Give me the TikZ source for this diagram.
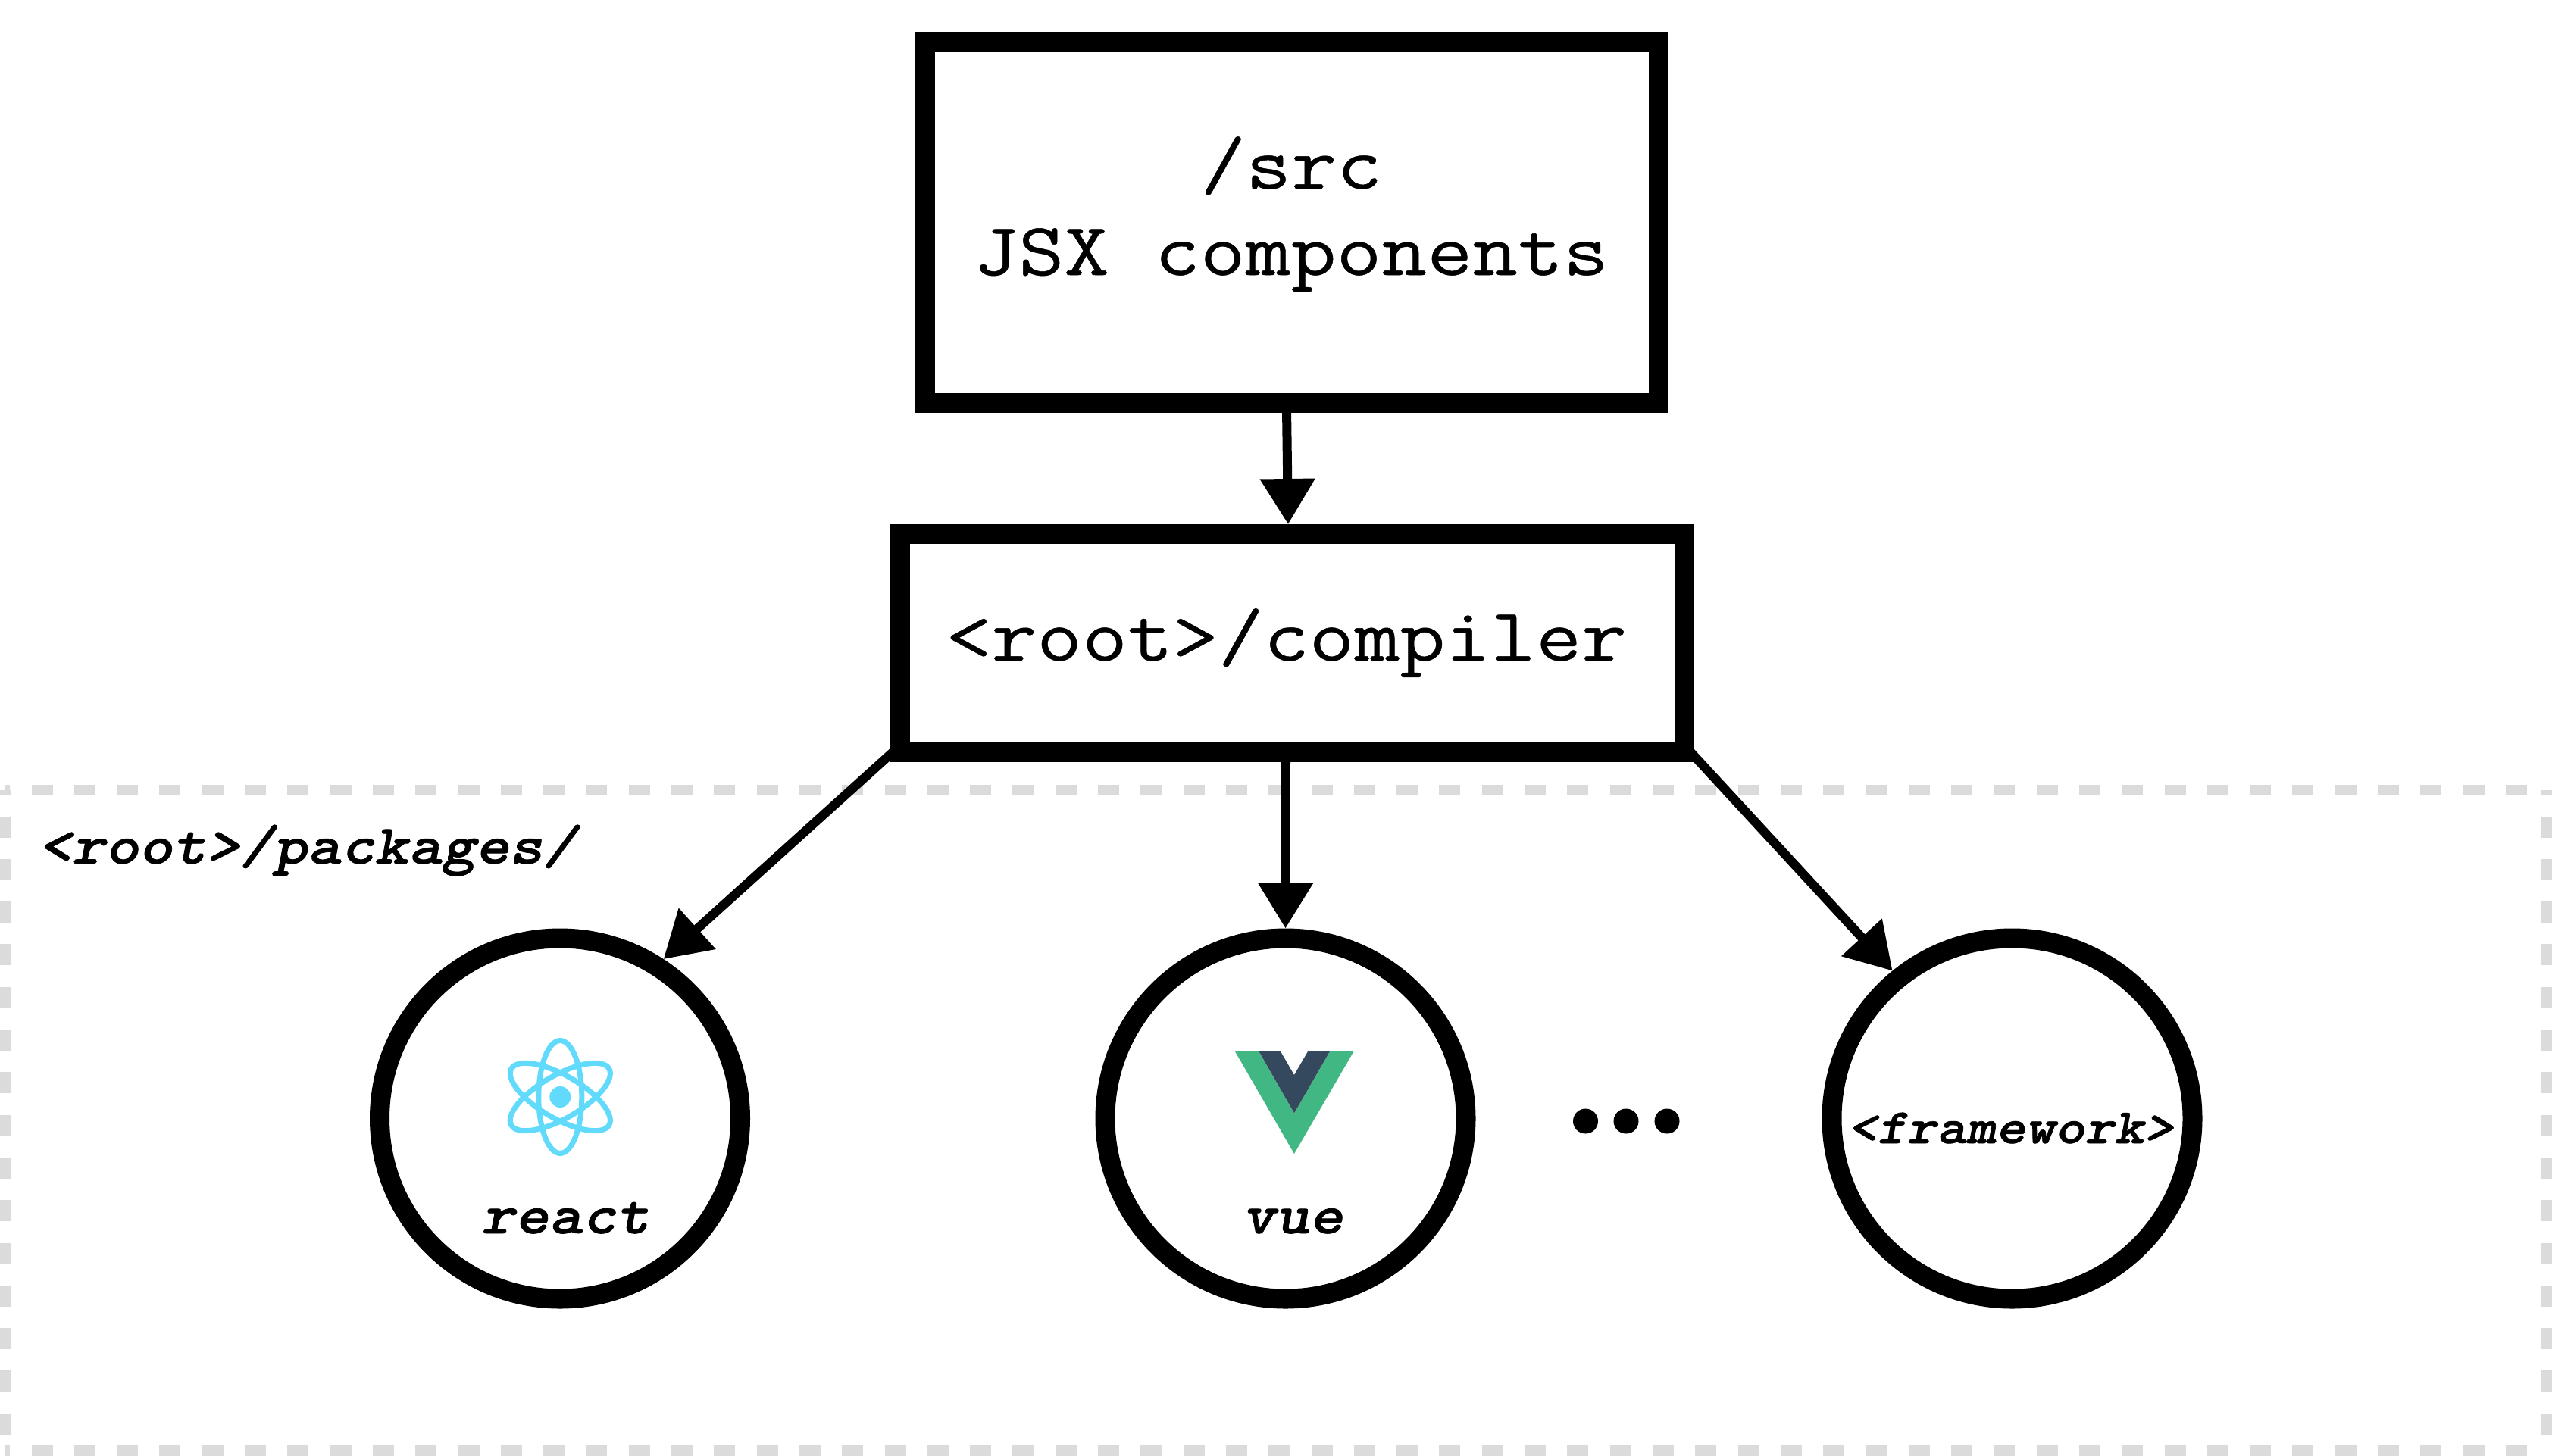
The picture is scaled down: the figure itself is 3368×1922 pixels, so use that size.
\documentclass[tikz,border=0pt]{standalone}
\usepackage{fontspec}
\usetikzlibrary{arrows.meta}
\newfontfamily\courreg[FakeStretch=1.175,FakeBold=0.5]{Latin Modern Mono}
\newfontfamily\courbi[FakeStretch=1.143,FakeBold=1]{Latin Modern Mono Light}
\definecolor{dashgray}{HTML}{DBDBDB}
\definecolor{reactblue}{HTML}{61DAFB}
\definecolor{vuegreen}{HTML}{41B883}
\definecolor{vuedark}{HTML}{35495E}
\tikzset{
  boxnode/.style={draw=black,fill=white,rectangle,line width=13pt,inner sep=0pt},
  pkgnode/.style={draw=black,fill=white,circle,line width=13pt,inner sep=0pt,minimum size=238pt},
  reglabel/.style={anchor=base west,inner sep=0pt,font={\fontsize{49.5pt}{49.5pt}\courreg}},
  bilabel/.style={anchor=base west,inner sep=0pt,font={\fontsize{37pt}{37pt}\courbi\bfseries\itshape}},
  fwlabel/.style={anchor=base west,inner sep=0pt,font={\fontsize{32.6pt}{32.6pt}\courbi\bfseries\itshape}},
  conn/.style={line width=6pt,-{Triangle[length=30pt,width=35pt]}},
  frameline/.style={draw=dashgray,line width=7pt,dash pattern=on 14pt off 14.15pt,dash phase=10.9pt},
  orbit/.style={draw=reactblue,line width=3.5pt},
}
\begin{document}
\begin{tikzpicture}[x=.5pt,y=-.5pt]
\useasboundingbox[fill=white] (0,0) rectangle (3368,1922);
% dashed frame
\draw[frameline] (7,1043) -- (3361,1043);
\draw[frameline] (7,1043) -- (7,1915);
\draw[frameline] (3361,1043) -- (3361,1915);
\draw[frameline] (7,1915) -- (3361,1915);
% boxes
\node[boxnode,minimum width=484.15pt,minimum height=238.35pt] (src) at (1704.85,293.65) {};
\node[boxnode,minimum width=517.35pt,minimum height=144pt] (compiler) at (1705.35,848.7) {};
% circles
\node[pkgnode] (react) at (739,1476.5) {};
\node[pkgnode] (vue) at (1696.5,1476.5) {};
\node[pkgnode] (framework) at (2655.5,1476.5) {};
% texts
\node[reglabel] (srcA) at (1584,249) {/src};
\node[reglabel] (srcB) at (1284,363) {JSX components};
\node[reglabel] (comp) at (1248,872) {<root>/compiler};
\node[bilabel] (pk) at (50,1140) {<root>/packages/};
\node[bilabel] (rl) at (635,1628) {react};
\node[bilabel] (vl) at (1639,1628) {vue};
\node[fwlabel] (fl) at (2438,1509) {<framework>};
% connectors
\coordinate (cSW) at (1187,985);
\coordinate (cSE) at (2224,985);
\coordinate (srcOut) at (1698,540);
\coordinate (compIn) at (1700,692);
\coordinate (vueOut) at (1697,1000);
\draw[conn] (srcOut) -- (compIn);
\draw[conn] (vueOut) -- (vue.north);
\draw[conn] (cSW) -- (react.57);
\draw[conn] (cSE) -- (framework.129);
% react logo
\fill[reactblue] (739.3,1448) circle (14);
\draw[orbit] (739.3,1448) ellipse [x radius=28.5,y radius=74.5];
\draw[orbit,rotate around={60:(739.3,1448)}] (739.3,1448) ellipse [x radius=28.5,y radius=74.5];
\draw[orbit,rotate around={-60:(739.3,1448)}] (739.3,1448) ellipse [x radius=28.5,y radius=74.5];
% vue logo
\fill[vuegreen] (1630,1388) -- (1786.5,1388) -- (1708,1523) -- cycle;
\fill[white] (1661.4,1388) -- (1755,1388) -- (1708,1469.5) -- cycle;
\fill[vuedark] (1661.4,1388) -- (1690,1388) -- (1708,1419) -- (1726,1388) -- (1755,1388) -- (1708,1469.5) -- cycle;
% ellipsis
\fill[black] (2092.5,1480) circle (16.5);
\fill[black] (2146,1480) circle (16.5);
\fill[black] (2200,1480) circle (16.5);
\end{tikzpicture}
\end{document}
